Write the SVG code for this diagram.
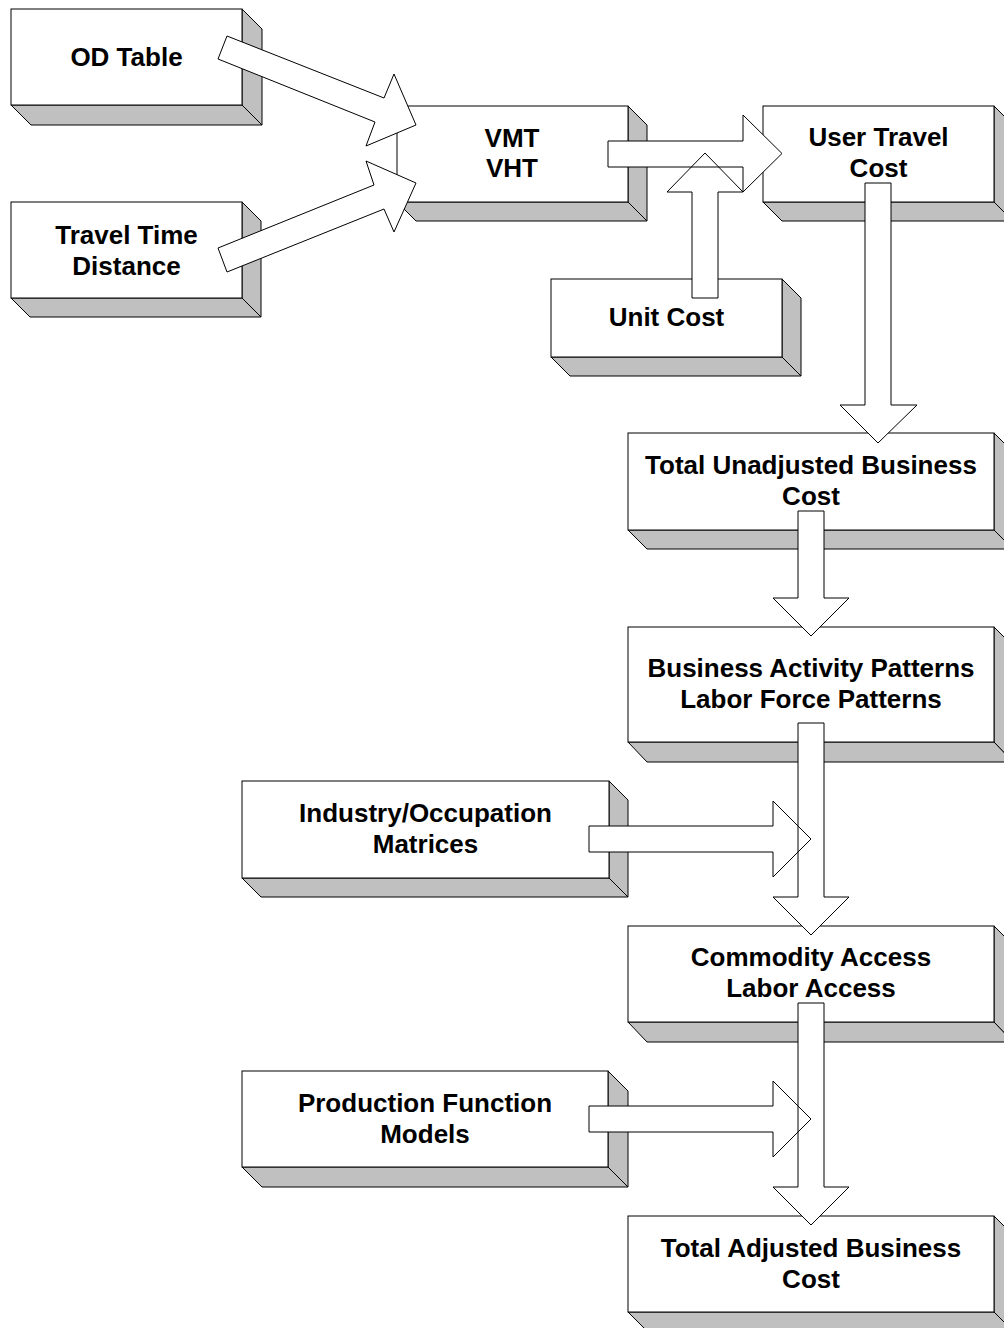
<svg xmlns="http://www.w3.org/2000/svg" xmlns:xlink="http://www.w3.org/1999/xlink" width="1004" height="1328" viewBox="0 0 1004 1328">
<style>
.front{fill:#fff;stroke:#000;stroke-width:1}
.side{fill:#c0c0c0;stroke:#000;stroke-width:1;stroke-linejoin:miter}
.lbl{font-family:"Liberation Sans",Arial,sans-serif;font-weight:bold;font-size:26px;fill:#000;text-anchor:middle}
.af{fill:#fff;stroke:none}
.ao{fill:none;stroke:#000;stroke-width:1}
</style>
<defs>
<polygon id="a1" points="227,36 384,98 394,74 416,125 366,146 375,122 218,59"/>
<polygon id="a2" points="218,248 374,185 366,161 416,183 394,232 384,209 227,272"/>
<polygon id="a3" points="608,141 743,141 743,115 782,153.5 743,192 743,167 608,167"/>
<polygon id="a4" points="692,298 692,192 667,192 705,153 743,192 718,192 718,298"/>
<polygon id="a5" points="865,183 891,183 891,405 917,405 878,443 840,405 865,405"/>
<polygon id="a6" points="798,511 824,511 824,598 849,598 811,636 773,598 798,598"/>
<polygon id="a7" points="798,723 824,723 824,897 849,897 811,935 773,897 798,897"/>
<polygon id="a8" points="589,826 773,826 773,801 811,839 773,877 773,852 589,852"/>
<polygon id="a9" points="798,1003 824,1003 824,1187 849,1187 811,1225 773,1187 798,1187"/>
<polygon id="a10" points="589,1106 773,1106 773,1081 811,1119 773,1157 773,1132 589,1132"/>
</defs>
<rect width="1004" height="1328" fill="#fff"/>

<g id="od-table">
<polygon class="side" points="242,9 262,29 262,125 242,105"/>
<polygon class="side" points="11,105 242,105 262,125 31,125"/>
<rect class="front" x="11" y="9" width="231" height="96"/>
<text class="lbl" x="126.5" y="66">OD Table</text>
</g>

<g id="travel-time">
<polygon class="side" points="242,202 261,221 261,317 242,298"/>
<polygon class="side" points="11,298 242,298 261,317 30,317"/>
<rect class="front" x="11" y="202" width="231" height="96"/>
<text class="lbl" x="126.5" y="243.5">Travel Time</text>
<text class="lbl" x="126.5" y="274.5">Distance</text>
</g>

<g id="vmt-vht">
<polygon class="side" points="628,106 647,125 647,221 628,202"/>
<polygon class="side" points="397,202 628,202 647,221 416,221"/>
<rect class="front" x="397" y="106" width="231" height="96"/>
<text class="lbl" x="512" y="146.5">VMT</text>
<text class="lbl" x="512" y="177">VHT</text>
</g>

<g id="user-travel-cost">
<polygon class="side" points="994,106 1013,125 1013,221 994,202"/>
<polygon class="side" points="763,202 994,202 1013,221 782,221"/>
<rect class="front" x="763" y="106" width="231" height="96"/>
<text class="lbl" x="878.5" y="146">User Travel</text>
<text class="lbl" x="878.5" y="177">Cost</text>
</g>

<g id="unit-cost">
<polygon class="side" points="782,279 801,298 801,376 782,357"/>
<polygon class="side" points="551,357 782,357 801,376 570,376"/>
<rect class="front" x="551" y="279" width="231" height="78"/>
<text class="lbl" x="666.5" y="326">Unit Cost</text>
</g>

<g id="total-unadjusted">
<polygon class="side" points="994,433 1013,452 1013,549 994,530"/>
<polygon class="side" points="628,530 994,530 1013,549 647,549"/>
<rect class="front" x="628" y="433" width="366" height="97"/>
<text class="lbl" x="811" y="474">Total Unadjusted Business</text>
<text class="lbl" x="811" y="505">Cost</text>
</g>

<g id="business-activity">
<polygon class="side" points="994,627 1013,646 1013,762 994,742"/>
<polygon class="side" points="628,742 994,742 1013,762 647,762"/>
<rect class="front" x="628" y="627" width="366" height="115"/>
<text class="lbl" x="811" y="677">Business Activity Patterns</text>
<text class="lbl" x="811" y="708">Labor Force Patterns</text>
</g>

<g id="industry-occupation">
<polygon class="side" points="609,781 628,800 628,897 609,878"/>
<polygon class="side" points="242,878 609,878 628,897 261,897"/>
<rect class="front" x="242" y="781" width="367" height="97"/>
<text class="lbl" x="425.5" y="822">Industry/Occupation</text>
<text class="lbl" x="425.5" y="853">Matrices</text>
</g>

<g id="commodity-access">
<polygon class="side" points="994,926 1013,945 1013,1042 994,1022"/>
<polygon class="side" points="628,1022 994,1022 1013,1042 647,1042"/>
<rect class="front" x="628" y="926" width="366" height="96"/>
<text class="lbl" x="811" y="966">Commodity Access</text>
<text class="lbl" x="811" y="997">Labor Access</text>
</g>

<g id="production-function">
<polygon class="side" points="608,1071 628,1091 628,1187 608,1167"/>
<polygon class="side" points="242,1167 608,1167 628,1187 262,1187"/>
<rect class="front" x="242" y="1071" width="366" height="96"/>
<text class="lbl" x="425" y="1112">Production Function</text>
<text class="lbl" x="425" y="1143">Models</text>
</g>

<g id="total-adjusted">
<polygon class="side" points="994,1216 1013,1235 1013,1331 994,1312"/>
<polygon class="side" points="628,1312 994,1312 1013,1331 647,1331"/>
<rect class="front" x="628" y="1216" width="366" height="96"/>
<text class="lbl" x="811" y="1257">Total Adjusted Business</text>
<text class="lbl" x="811" y="1288">Cost</text>
</g>

<g id="connectors">
<g class="af">
<use xlink:href="#a1"/><use xlink:href="#a2"/><use xlink:href="#a3"/><use xlink:href="#a4"/><use xlink:href="#a5"/>
<use xlink:href="#a6"/><use xlink:href="#a7"/><use xlink:href="#a8"/><use xlink:href="#a9"/><use xlink:href="#a10"/>
</g>
<g class="ao">
<use xlink:href="#a1"/><use xlink:href="#a2"/><use xlink:href="#a3"/><use xlink:href="#a4"/><use xlink:href="#a5"/>
<use xlink:href="#a6"/><use xlink:href="#a7"/><use xlink:href="#a8"/><use xlink:href="#a9"/><use xlink:href="#a10"/>
</g>
</g>
</svg>
